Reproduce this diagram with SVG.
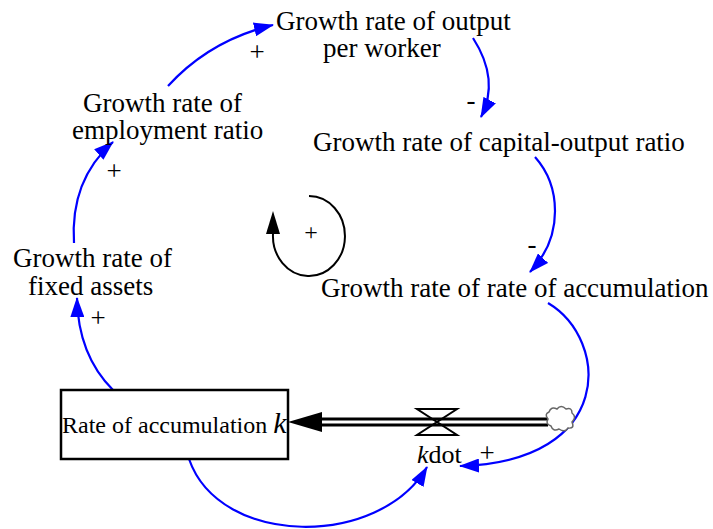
<svg xmlns="http://www.w3.org/2000/svg" width="713" height="529" viewBox="0 0 713 529" font-family="'Liberation Serif', 'Times New Roman', serif">
<style>
text{font-family:'Liberation Serif','Times New Roman',serif;fill:#000}
.lbl{font-size:27px}
.box{font-size:24px}
.pol{font-size:27px;text-anchor:middle;dominant-baseline:central}
.link{fill:none;stroke:#0000ff;stroke-width:2.2;marker-end:url(#ah)}
</style>
<defs>
<marker id="ah" viewBox="0 0 20 14" refX="19" refY="7" markerWidth="20" markerHeight="14" markerUnits="userSpaceOnUse" orient="auto">
<path d="M0,0 L20,7 L0,14 z" fill="#0000ff"/>
</marker>
</defs>
<rect width="713" height="529" fill="#fff"/>

<g id="connectors">
<path class="link" d="M168,86 Q210,40 273,25"/>
<path class="link" d="M473,38 Q500,80 481,117"/>
<path class="link" d="M535,157 C560,185 565,235 530,272"/>
<path class="link" d="M548,303 C610,340 615,462 460,466"/>
<path class="link" d="M189,459 C220,548 380,548 427,467"/>
<path class="link" d="M113,390 Q78,355 77,298"/>
<path class="link" d="M74,243 Q70,180 113,142"/>
<text class="pol" x="257" y="52">+</text>
<text class="pol" x="471" y="100">-</text>
<text class="pol" x="532" y="244">-</text>
<text class="pol" x="487" y="453">+</text>
<text class="pol" x="114" y="171">+</text>
<text class="pol" x="98" y="318">+</text>
</g>

<g id="loop">
<path d="M309,196 A36 40 0 1 1 273,234" fill="none" stroke="#000" stroke-width="2"/>
<path d="M273,211 L266,234 L280,234 z" fill="#000"/>
<text class="pol" x="311" y="232" style="font-size:24px">+</text>
</g>

<g id="flow">
<line x1="320" y1="422" x2="548" y2="422" stroke="#000" stroke-width="9"/>
<line x1="318" y1="422" x2="550" y2="422" stroke="#fff" stroke-width="3"/>
<path d="M288,422 L322,412 L322,432 z" fill="#000"/>
<path d="M417,409 H457 L417,435 H457 Z" fill="none" stroke="#000" stroke-width="2"/>
</g>

<g id="cloud">
<path d="M549,412 Q551,406 557,409 Q561,404 566,409 Q572,407 572,413 Q577,417 572,422 Q575,429 568,428 Q565,433 559,429 Q553,432 551,426 Q545,424 548,419 Q544,414 549,412 Z" fill="#fff" stroke="#666" stroke-width="1.5"/>
</g>

<g id="kdot">
<text class="lbl" x="417" y="463" style="font-size:26px"><tspan font-style="italic">k</tspan>dot</text>
</g>

<g id="rate_k">
<rect x="61" y="390" width="227" height="69" fill="#fff" stroke="#000" stroke-width="2.5"/>
<text class="box" x="62" y="433">Rate of accumulation <tspan font-style="italic" style="font-size:30px">k</tspan></text>
</g>

<g id="output_per_worker">
<text class="lbl" x="276" y="30">Growth rate of output</text>
<text class="lbl" x="323" y="57">per worker</text>
</g>

<g id="capital_output">
<text class="lbl" x="313" y="151">Growth rate of capital-output ratio</text>
</g>

<g id="rate_of_accumulation">
<text class="lbl" x="321" y="297">Growth rate of rate of accumulation</text>
</g>

<g id="employment_ratio">
<text class="lbl" x="83" y="112">Growth rate of</text>
<text class="lbl" x="72" y="139">employment ratio</text>
</g>

<g id="fixed_assets">
<text class="lbl" x="13" y="267">Growth rate of</text>
<text class="lbl" x="28" y="295">fixed assets</text>
</g>
</svg>
